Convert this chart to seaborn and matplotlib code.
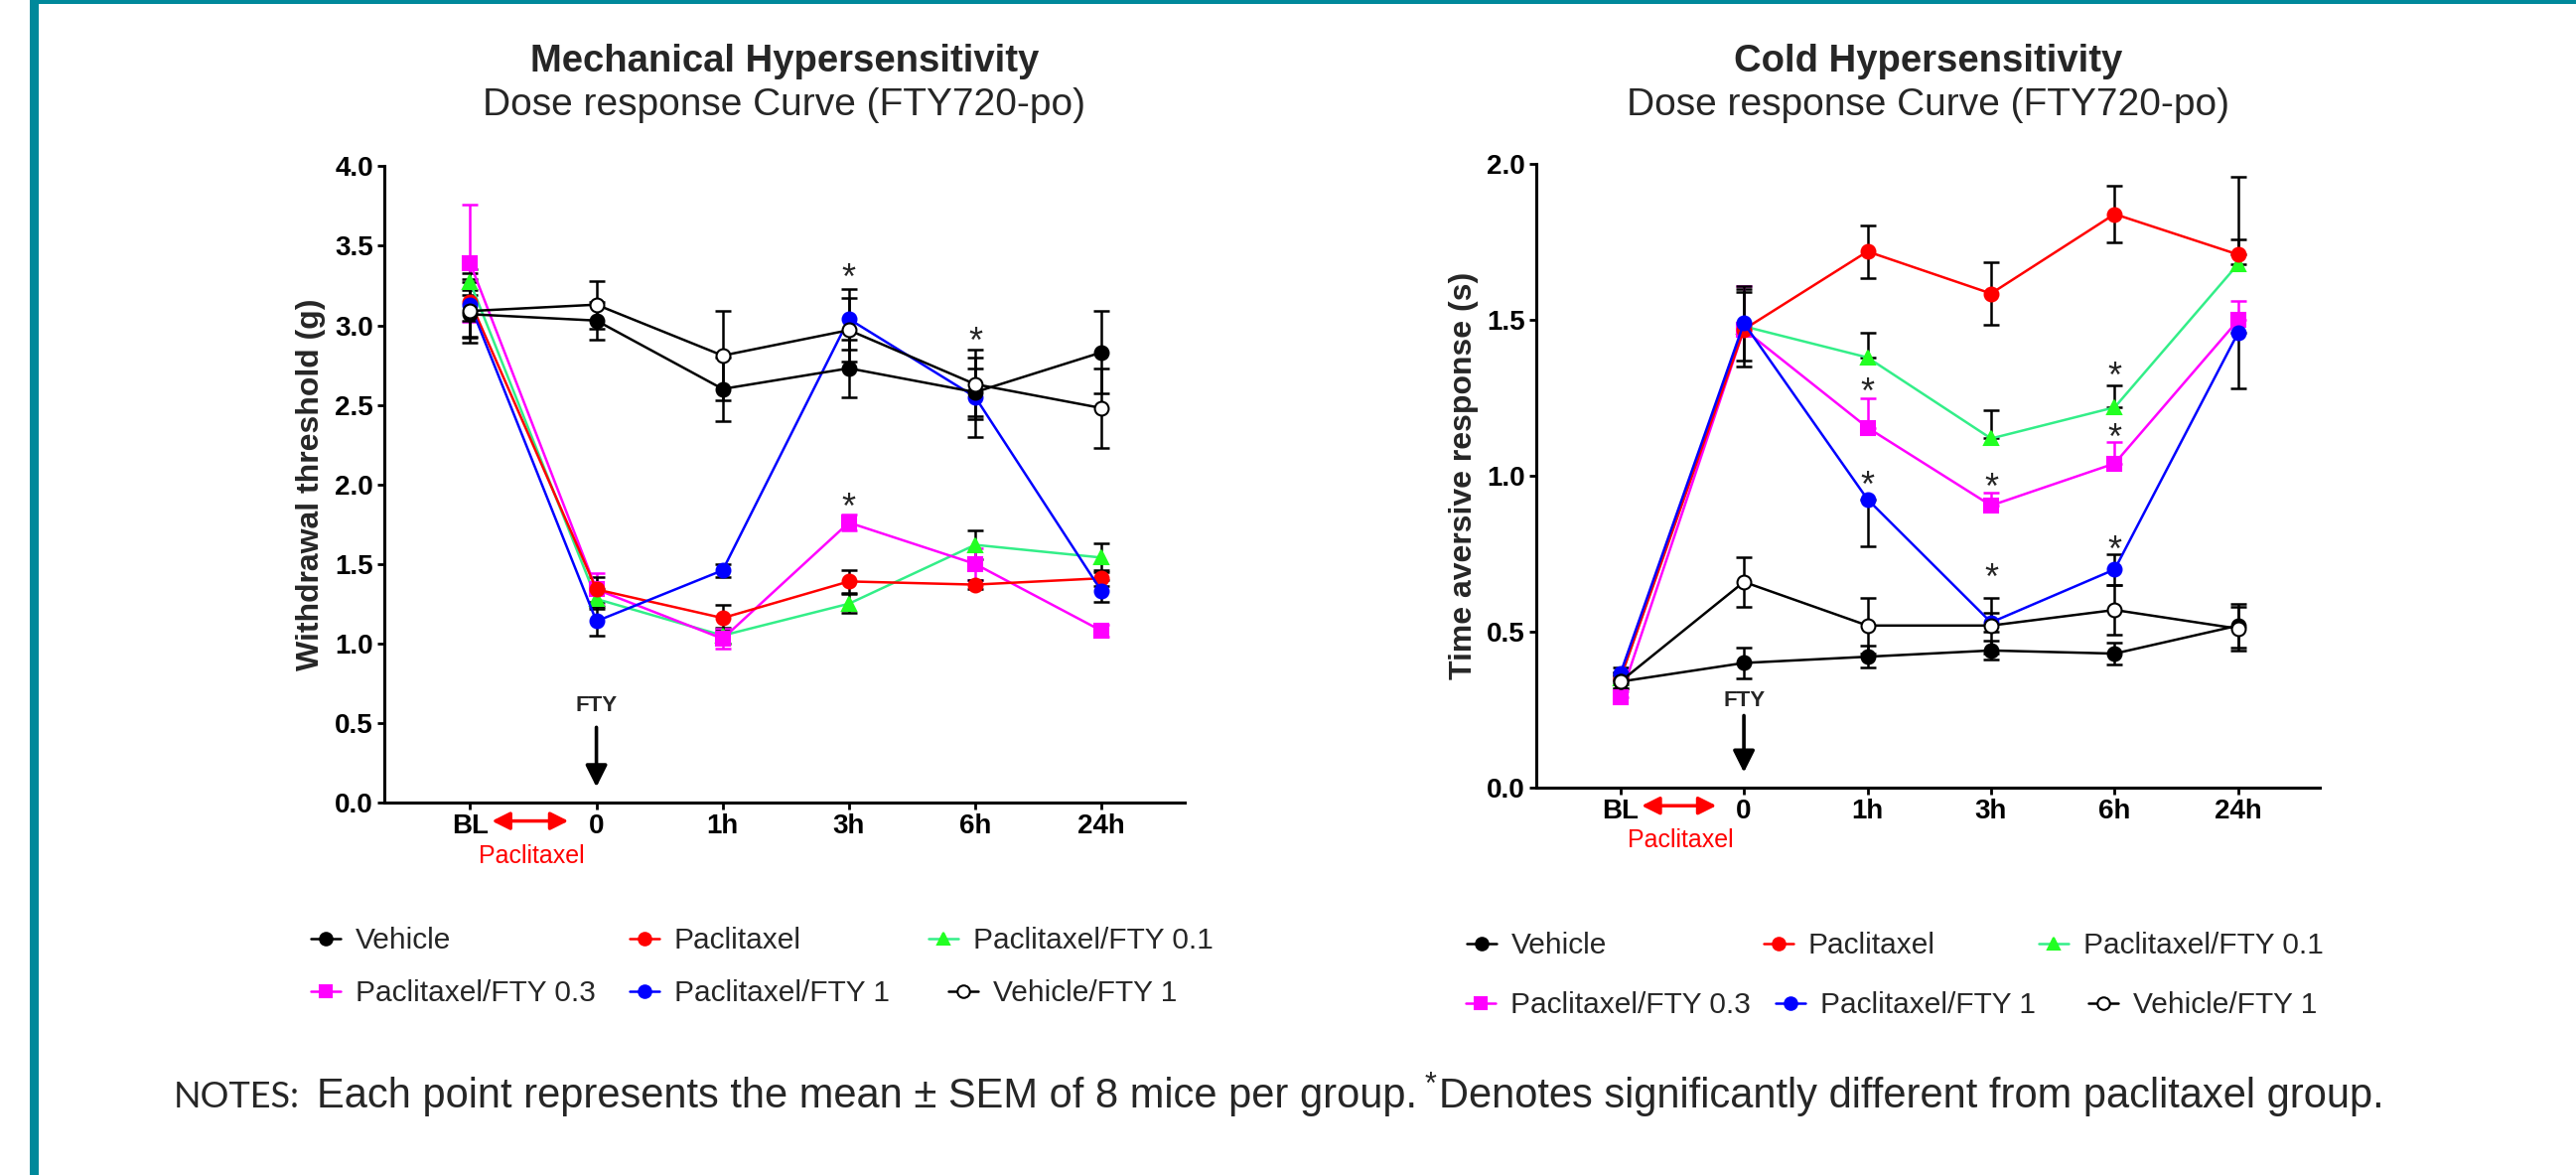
import pandas as pd
import matplotlib
matplotlib.use("Agg")
import matplotlib.pyplot as plt
from matplotlib.lines import Line2D
from matplotlib.patches import Rectangle
import seaborn as sns

# x categories
time_labels = ["BL", "0", "1h", "3h", "6h", "24h"]
groups = ["Vehicle", "Paclitaxel", "Paclitaxel/FTY 0.1",
          "Paclitaxel/FTY 0.3", "Paclitaxel/FTY 1", "Vehicle/FTY 1"]

# Mechanical hypersensitivity: withdrawal threshold (g), mean and SEM
mech_vehicle = [3.07, 3.03, 2.60, 2.73, 2.58, 2.83]
mech_vehicle_sem = [0.15, 0.12, 0.20, 0.18, 0.15, 0.26]
mech_pac = [3.15, 1.34, 1.16, 1.39, 1.37, 1.41]
mech_pac_sem = [0.12, 0.08, 0.08, 0.07, 0.03, 0.05]
mech_fty01 = [3.27, 1.28, 1.05, 1.25, 1.62, 1.54]
mech_fty01_sem = [0.08, 0.06, 0.05, 0.06, 0.09, 0.09]
mech_fty03 = [3.39, 1.34, 1.03, 1.76, 1.50, 1.08]
mech_fty03_sem = [0.37, 0.10, 0.06, 0.05, 0.10, 0.04]
mech_fty1 = [3.13, 1.14, 1.46, 3.04, 2.55, 1.33]
mech_fty1_sem = [0.20, 0.09, 0.04, 0.19, 0.25, 0.07]
mech_vehfty1 = [3.09, 3.13, 2.81, 2.97, 2.63, 2.48]
mech_vehfty1_sem = [0.20, 0.15, 0.28, 0.20, 0.22, 0.25]

# Cold hypersensitivity: time aversive response (s), mean and SEM
cold_vehicle = [0.34, 0.40, 0.42, 0.44, 0.43, 0.52]
cold_vehicle_sem = [0.02, 0.05, 0.035, 0.03, 0.035, 0.07]
cold_pac = [0.35, 1.47, 1.72, 1.585, 1.84, 1.71]
cold_pac_sem = [0.02, 0.12, 0.085, 0.10, 0.09, 0.25]
cold_fty01 = [0.35, 1.48, 1.38, 1.12, 1.22, 1.68]
cold_fty01_sem = [0.02, 0.12, 0.08, 0.09, 0.07, 0.08]
cold_fty03 = [0.29, 1.47, 1.155, 0.905, 1.04, 1.50]
cold_fty03_sem = [0.02, 0.14, 0.095, 0.04, 0.07, 0.06]
cold_fty1 = [0.365, 1.49, 0.925, 0.53, 0.70, 1.46]
cold_fty1_sem = [0.02, 0.12, 0.15, 0.03, 0.05, 0.18]
cold_vehfty1 = [0.34, 0.66, 0.52, 0.52, 0.57, 0.51]
cold_vehfty1_sem = [0.02, 0.08, 0.09, 0.09, 0.08, 0.07]

# which side of each error bar is drawn (as in the original figure)
both = ["both"] * 6
cold_pac_dir = ["both", "both", "both", "both", "both", "up"]
cold_fty01_dir = ["up"] * 6
cold_fty03_dir = ["up"] * 6
cold_fty1_dir = ["both", "both", "down", "both", "both", "down"]

# significance stars (time index, y)
mech_star_x = [3, 3, 4]
mech_star_y = [3.35, 1.91, 2.95]
cold_star_x = [2, 2, 3, 3, 4, 4, 4]
cold_star_y = [1.296, 0.997, 0.99, 0.70, 1.346, 1.15, 0.787]

mech_series = [(mech_vehicle, mech_vehicle_sem, both), (mech_pac, mech_pac_sem, both),
               (mech_fty01, mech_fty01_sem, both), (mech_fty03, mech_fty03_sem, both),
               (mech_fty1, mech_fty1_sem, both), (mech_vehfty1, mech_vehfty1_sem, both)]
cold_series = [(cold_vehicle, cold_vehicle_sem, both), (cold_pac, cold_pac_sem, cold_pac_dir),
               (cold_fty01, cold_fty01_sem, cold_fty01_dir),
               (cold_fty03, cold_fty03_sem, cold_fty03_dir),
               (cold_fty1, cold_fty1_sem, cold_fty1_dir),
               (cold_vehfty1, cold_vehfty1_sem, both)]

rows = []
for panel, series in [("mech", mech_series), ("cold", cold_series)]:
    for g, (m, s, dirs) in zip(groups, series):
        for i, t in enumerate(time_labels):
            rows.append({"panel": panel, "group": g, "pos": i, "time": t,
                         "mean": m[i],
                         "lo": s[i] if dirs[i] in ("both", "down") else 0.0,
                         "hi": s[i] if dirs[i] in ("both", "up") else 0.0})
df = pd.DataFrame(rows)

styles = {
    "Vehicle": dict(line="black", marker="o", face="black", edge="black", err="black"),
    "Paclitaxel": dict(line="#ff0000", marker="o", face="#ff0000", edge="#ff0000", err="black"),
    "Paclitaxel/FTY 0.1": dict(line="#33ee88", marker="^", face="#22ff22", edge="#22ff22", err="black"),
    "Paclitaxel/FTY 0.3": dict(line="#ff00ff", marker="s", face="#ff00ff", edge="#ff00ff", err="#ff00ff"),
    "Paclitaxel/FTY 1": dict(line="#0000ff", marker="o", face="#0000ff", edge="#0000ff", err="black"),
    "Vehicle/FTY 1": dict(line="black", marker="o", face="white", edge="black", err="black"),
}
draw_order = ["Paclitaxel/FTY 0.1", "Paclitaxel/FTY 0.3", "Paclitaxel",
              "Paclitaxel/FTY 1", "Vehicle", "Vehicle/FTY 1"]

sns.set_theme(style="ticks")
plt.rcParams["font.family"] = ["Liberation Sans", "DejaVu Sans"]

W, H = 2594, 1183
fig = plt.figure(figsize=(W / 100, H / 100), dpi=100)
fig.patch.set_facecolor("white")

# teal frame on the left and top
teal = "#00899b"
fig.add_artist(Rectangle((30 / W, 0), 9 / W, 1, transform=fig.transFigure,
                         color=teal, lw=0))
fig.add_artist(Rectangle((30 / W, 1 - 4 / H), 1, 4 / H, transform=fig.transFigure,
                         color=teal, lw=0))

ax1 = fig.add_axes([387 / W, 1 - 808 / H, 806 / W, 640.6 / H])
ax2 = fig.add_axes([1547 / W, 1 - 793 / H, 789 / W, 627.7 / H])


def draw_panel(ax, panel, ymax, ylabel, stars_x, stars_y, fty_y, arrow_top):
    d_panel = df[df["panel"] == panel]
    for g in draw_order:
        st = styles[g]
        d = d_panel[d_panel["group"] == g]
        ax.errorbar(d["pos"], d["mean"], yerr=[d["lo"], d["hi"]], fmt="none",
                    ecolor=st["err"], elinewidth=1.8, capsize=6, capthick=1.8,
                    zorder=1.5)
        sns.lineplot(data=d, x="pos", y="mean", ax=ax, color=st["line"],
                     marker=st["marker"], markersize=10,
                     markerfacecolor=st["face"], markeredgecolor=st["edge"],
                     markeredgewidth=1.5, linewidth=1.8, errorbar=None,
                     legend=False)

    ax.set_xlim(-0.68, 5.66)
    ax.set_ylim(0, ymax)
    ax.set_xticks(range(len(time_labels)))
    ax.set_xticklabels(time_labels, fontsize=20, fontweight="bold")
    yt = [i * 0.5 for i in range(int(ymax / 0.5) + 1)]
    ax.set_yticks(yt)
    ax.set_yticklabels([f"{v:.1f}" for v in yt], fontsize=20, fontweight="bold")
    ax.set_xlabel("")
    ax.set_ylabel(ylabel, fontsize=23, fontweight="bold")
    ax.yaxis.set_label_coords(-0.073, 0.5)
    for side in ["top", "right"]:
        ax.spines[side].set_visible(False)
    for side in ["left", "bottom"]:
        ax.spines[side].set_linewidth(2.2)
        ax.spines[side].set_color("black")
    ax.tick_params(axis="both", direction="out", length=5, width=2,
                   colors="black", pad=3)
    ax.set_facecolor("white")
    ax.grid(False)

    for sx, sy in zip(stars_x, stars_y):
        ax.annotate("*", xy=(sx, sy), xytext=(0, -14), textcoords="offset points",
                    ha="center", va="baseline", fontsize=26, zorder=10)

    # FTY dosing arrow
    ax.text(1, fty_y, "FTY", ha="center", va="center", fontsize=16,
            fontweight="bold")
    ax.annotate("", xy=(1, 0.02 * ymax), xytext=(1, arrow_top),
                arrowprops=dict(arrowstyle="-|>,head_length=0.6,head_width=0.3",
                                color="black", lw=2.6, mutation_scale=22))

    # paclitaxel period between BL and 0
    ax.annotate("", xy=(0.15, -0.029), xytext=(0.80, -0.029),
                xycoords=("data", "axes fraction"),
                textcoords=("data", "axes fraction"),
                arrowprops=dict(arrowstyle="<|-|>,head_length=0.6,head_width=0.3",
                                color="#ff0000", lw=2.5, mutation_scale=18),
                annotation_clip=False)
    ax.text(0.49, -0.085, "Paclitaxel", transform=ax.get_xaxis_transform(),
            ha="center", va="center", color="#ff0000", fontsize=18)


draw_panel(ax1, "mech", 4.0, "Withdrawal threshold (g)",
           mech_star_x, mech_star_y, 0.61, 0.49)
draw_panel(ax2, "cold", 2.0, "Time aversive response (s)",
           cold_star_x, cold_star_y, 0.28, 0.24)

# legends: one entry each, placed as in the original (marker x, row y in px)
legend_slots = {
    "left": [("Vehicle", 328, 947), ("Paclitaxel", 649, 947),
             ("Paclitaxel/FTY 0.1", 950, 947), ("Paclitaxel/FTY 0.3", 328, 1000),
             ("Paclitaxel/FTY 1", 649, 1000), ("Vehicle/FTY 1", 970, 1000)],
    "right": [("Vehicle", 1492, 952), ("Paclitaxel", 1791, 952),
              ("Paclitaxel/FTY 0.1", 2068, 952), ("Paclitaxel/FTY 0.3", 1491, 1012),
              ("Paclitaxel/FTY 1", 1803, 1012), ("Vehicle/FTY 1", 2118, 1012)],
}
for side, slots in legend_slots.items():
    for g, mx, my in slots:
        st = styles[g]
        h = Line2D([0], [0], color=st["line"], marker=st["marker"],
                   markerfacecolor=st["face"], markeredgecolor=st["edge"],
                   markersize=9, markeredgewidth=1.5, lw=1.8)
        fig.legend([h], [g], loc="center left",
                   bbox_to_anchor=((mx - 15) / W, 1 - my / H),
                   bbox_transform=fig.transFigure, frameon=False, fontsize=21.5,
                   handlelength=1.0, handletextpad=0.5, borderpad=0,
                   borderaxespad=0)

# panel titles
for ax, title in [(ax1, "Mechanical Hypersensitivity"), (ax2, "Cold Hypersensitivity")]:
    bb = ax.get_position()
    cx = (bb.x0 + bb.x1) / 2
    fig.text(cx, 1 - 62 / H, title, ha="center", va="center", fontsize=27.5,
             fontweight="bold")
    fig.text(cx, 1 - 106 / H, "Dose response Curve (FTY720-po)", ha="center",
             va="center", fontsize=28)

# notes line
r = fig.canvas.get_renderer()
base_y = 1 - 1115 / H
fig.text(175 / W, base_y, "NOTES:", family=["Lato", "DejaVu Sans"], fontsize=26,
         va="baseline")
t_main = fig.text(319 / W, base_y,
                  "Each point represents the mean \u00b1 SEM of 8 mice per group.",
                  fontsize=30, va="baseline")
bb = t_main.get_window_extent(r)
t_star = fig.text((bb.x1 + 8) / W, base_y + 14 / H, "*", fontsize=22, va="baseline")
bb2 = t_star.get_window_extent(r)
fig.text((bb2.x1 + 2) / W, base_y,
         "Denotes significantly different from paclitaxel group.",
         fontsize=30, va="baseline")

plt.savefig("out.png", dpi=100)
plt.close()
